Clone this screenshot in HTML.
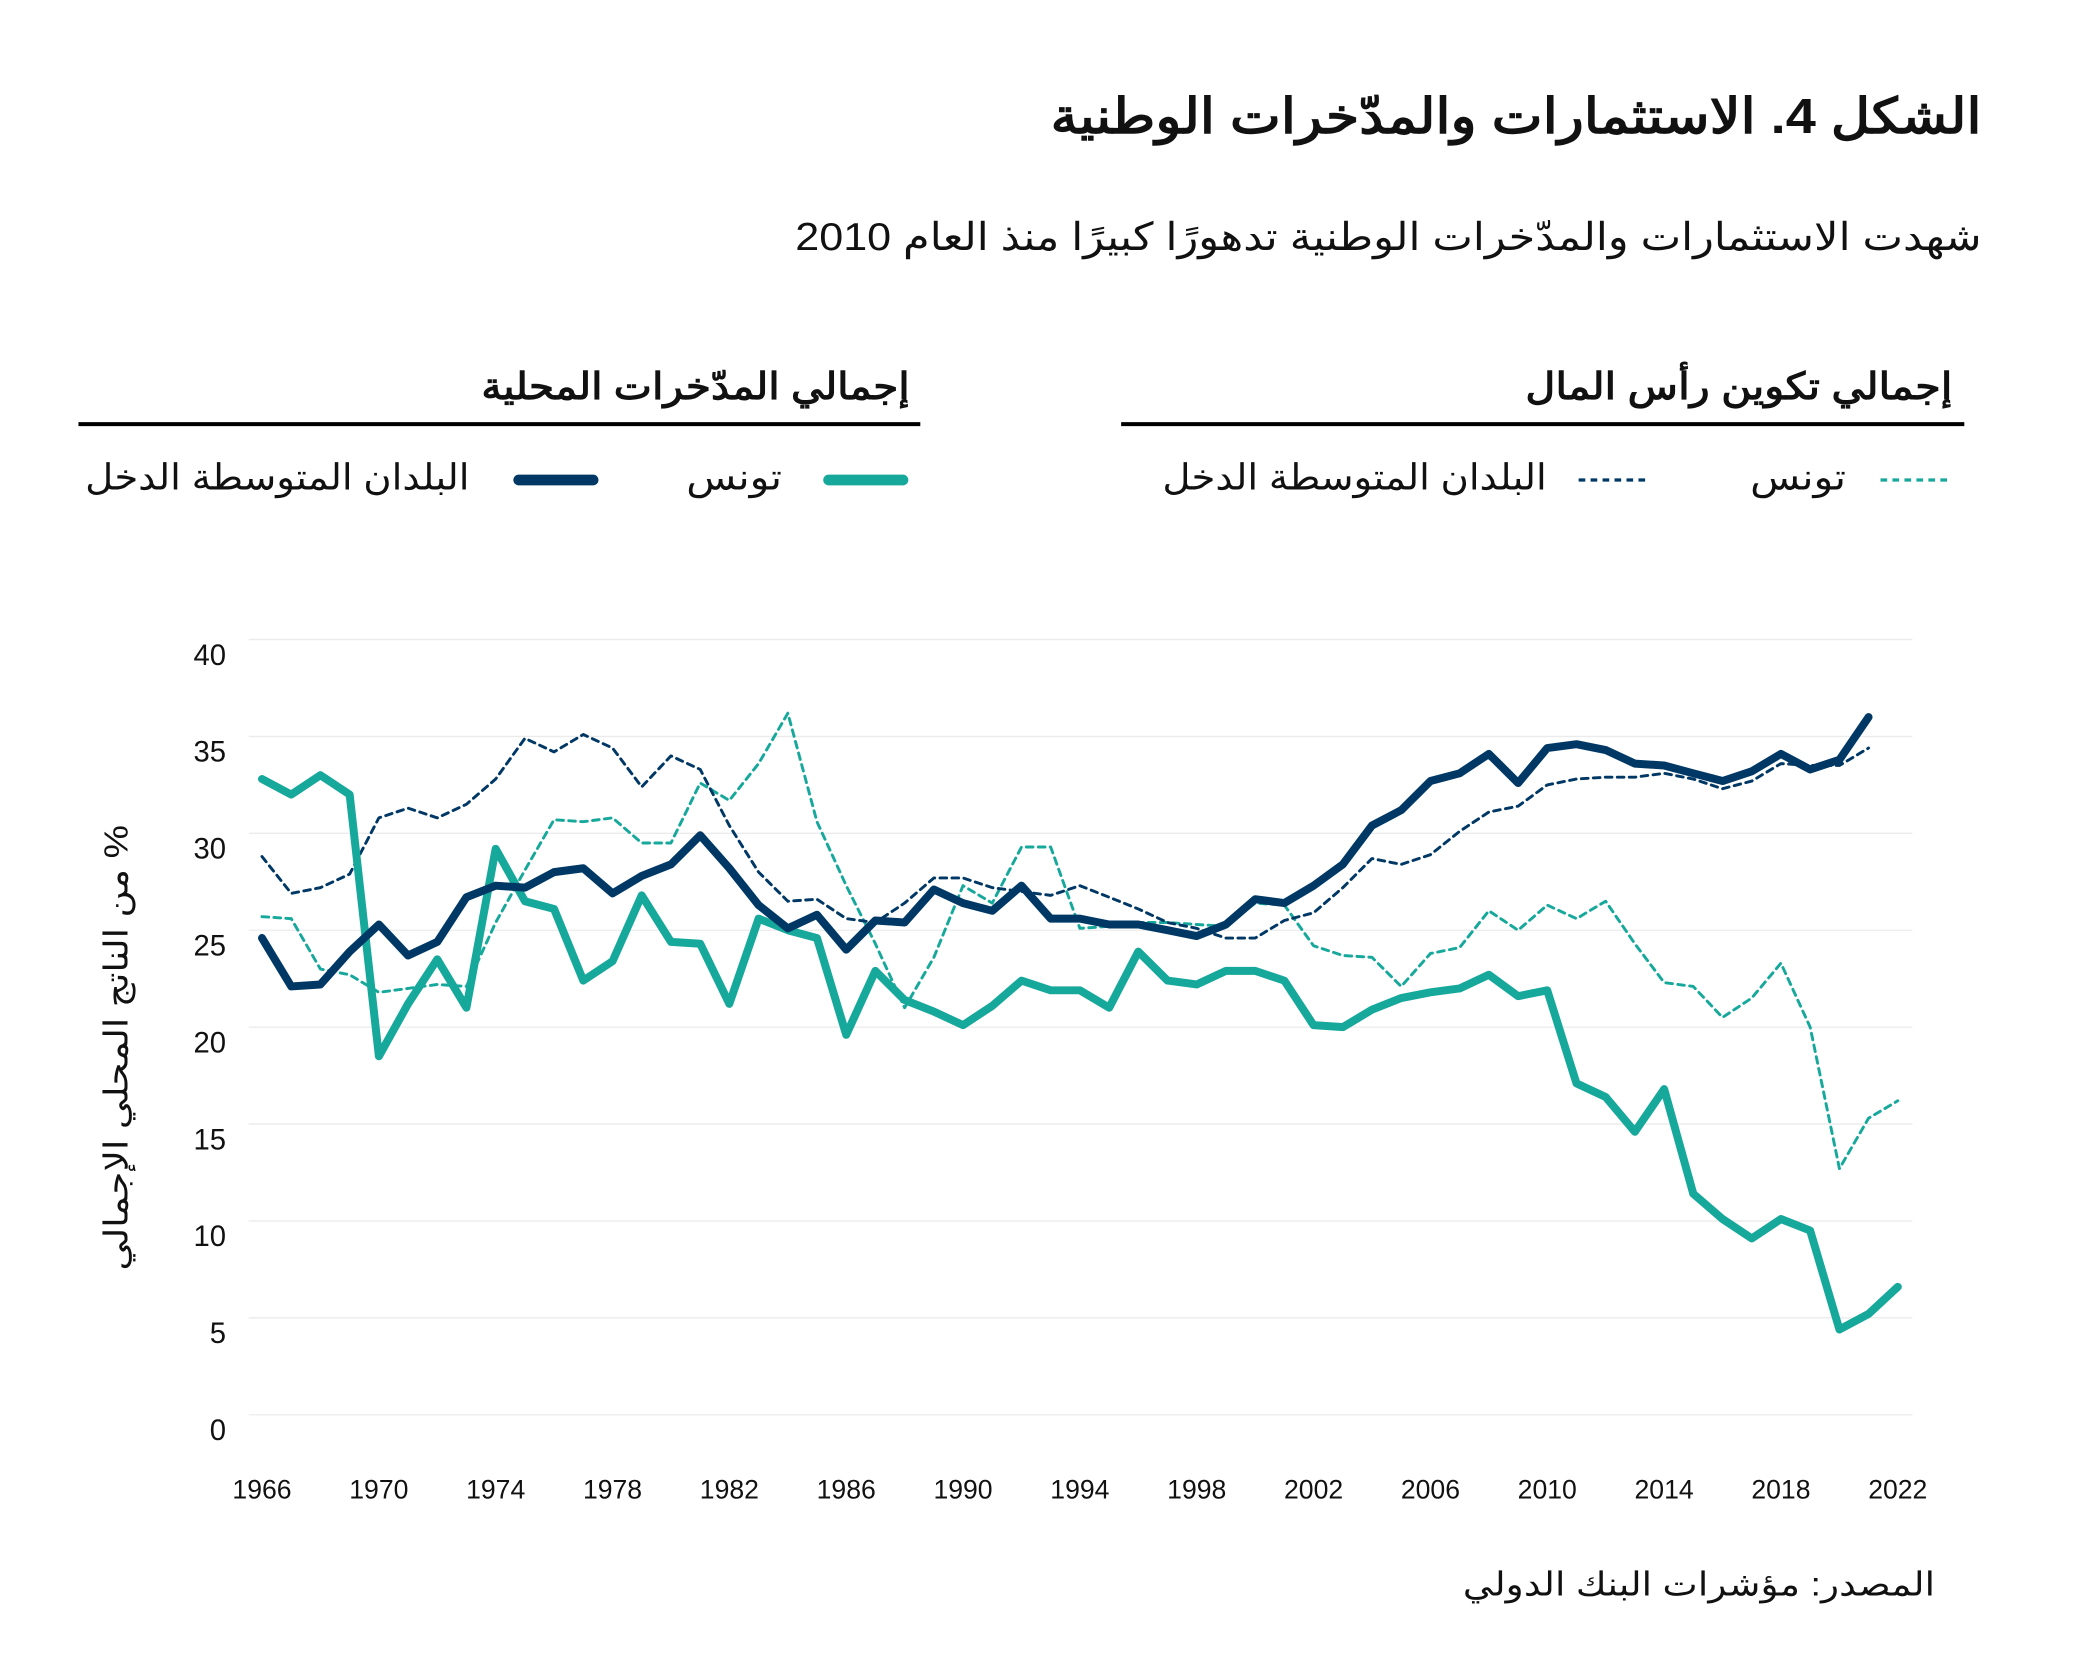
<!DOCTYPE html>
<html><head><meta charset="utf-8"><style>
html,body{margin:0;padding:0;background:#fff}
svg{display:block}
text{font-family:"Liberation Sans","Noto Sans CJK SC",sans-serif;fill:#111}
</style></head><body>
<svg id="s" width="2084" height="1678" viewBox="0 0 1567 1262" preserveAspectRatio="none" xmlns="http://www.w3.org/2000/svg">
<text x="1490" y="100" text-anchor="start" direction="rtl" font-size="37" font-weight="bold" textLength="700" lengthAdjust="spacingAndGlyphs">الشكل 4. الاستثمارات والمدّخرات الوطنية</text>
<text x="1490" y="188" text-anchor="start" direction="rtl" font-size="29" textLength="892" lengthAdjust="spacingAndGlyphs">شهدت الاستثمارات والمدّخرات الوطنية تدهورًا كبيرًا منذ العام 2010</text>
<text x="1468" y="300" text-anchor="start" direction="rtl" font-size="28" font-weight="bold" textLength="321" lengthAdjust="spacingAndGlyphs">إجمالي تكوين رأس المال</text>
<text x="684" y="300" text-anchor="start" direction="rtl" font-size="28" font-weight="bold" textLength="322" lengthAdjust="spacingAndGlyphs">إجمالي المدّخرات المحلية</text>
<line x1="843" y1="319" x2="1477" y2="319" stroke="#000" stroke-width="3"/>
<line x1="59" y1="319" x2="692" y2="319" stroke="#000" stroke-width="3"/>
<line x1="1414" y1="361" x2="1465" y2="361" stroke="#17a89c" stroke-width="2.5" stroke-dasharray="5,4"/>
<text x="1388" y="368" text-anchor="start" direction="rtl" font-size="27" textLength="72" lengthAdjust="spacingAndGlyphs">تونس</text>
<line x1="1187" y1="361" x2="1238" y2="361" stroke="#003865" stroke-width="2.5" stroke-dasharray="5,4"/>
<text x="1163" y="368" text-anchor="start" direction="rtl" font-size="27" textLength="289" lengthAdjust="spacingAndGlyphs">البلدان المتوسطة الدخل</text>
<line x1="623" y1="361" x2="679" y2="361" stroke="#17a89c" stroke-width="8" stroke-linecap="round"/>
<text x="588" y="368" text-anchor="start" direction="rtl" font-size="27" textLength="72" lengthAdjust="spacingAndGlyphs">تونس</text>
<line x1="390" y1="361" x2="446" y2="361" stroke="#003865" stroke-width="8" stroke-linecap="round"/>
<text x="353" y="368" text-anchor="start" direction="rtl" font-size="27" textLength="289" lengthAdjust="spacingAndGlyphs">البلدان المتوسطة الدخل</text>
<g id="grid"></g>
<text transform="translate(96,788) rotate(-90)" text-anchor="middle" direction="rtl" font-size="25" textLength="335" lengthAdjust="spacingAndGlyphs">% من الناتج المحلي الإجمالي</text>
<text x="1455" y="1200" text-anchor="start" direction="rtl" font-size="25" textLength="355" lengthAdjust="spacingAndGlyphs">المصدر: مؤشرات البنك الدولي</text>
<g id="lines"></g>
</svg>
<script>
function Y(v){return 1064-v*14.575}
function X(yr){return 197+(yr-1966)*21.964}
var g=document.getElementById("grid"),h="";
for(var v=0;v<=40;v+=5){h+='<line x1="187" x2="1438" y1="'+Y(v)+'" y2="'+Y(v)+'" stroke="#ebebeb" stroke-width="1"/>';
h+='<text x="170" y="'+(Y(v)+19)+'" text-anchor="end" font-size="22">'+v+'</text>';}
for(var yr=1966;yr<=2022;yr+=4){h+='<text x="'+X(yr)+'" y="1127" text-anchor="middle" font-size="20">'+yr+'</text>';}
g.innerHTML=h;
var tinv=[25.7,25.6,23.0,22.7,21.8,22.0,22.2,22.1,25.4,28.1,30.7,30.6,30.8,29.5,29.5,32.6,31.7,33.6,36.2,30.6,27.3,24.3,21.0,23.6,27.3,26.4,29.3,29.3,25.1,25.2,25.4,25.4,25.3,25.2,26.4,26.3,24.2,23.7,23.6,22.1,23.8,24.1,26.0,25.0,26.3,25.6,26.5,24.3,22.3,22.1,20.5,21.5,23.3,20.0,12.7,15.3,16.2];
var minv=[28.8,26.9,27.2,27.9,30.8,31.3,30.8,31.5,32.8,34.9,34.2,35.1,34.4,32.4,34.0,33.3,30.4,28.0,26.5,26.6,25.6,25.4,26.4,27.7,27.7,27.2,27.0,26.8,27.3,26.7,26.1,25.4,25.1,24.6,24.6,25.5,25.9,27.2,28.7,28.4,28.9,30.1,31.1,31.4,32.5,32.8,32.9,32.9,33.1,32.8,32.3,32.7,33.6,33.5,33.5,34.4];
var tsav=[32.8,32.0,33.0,32.0,18.5,21.2,23.5,21.0,29.2,26.5,26.1,22.4,23.4,26.8,24.4,24.3,21.2,25.6,25.0,24.6,19.6,22.9,21.4,20.8,20.1,21.1,22.4,21.9,21.9,21.0,23.9,22.4,22.2,22.9,22.9,22.4,20.1,20.0,20.9,21.5,21.8,22.0,22.7,21.6,21.9,17.1,16.4,14.6,16.8,11.4,10.1,9.1,10.1,9.5,4.4,5.2,6.6];
var msav=[24.6,22.1,22.2,23.9,25.3,23.7,24.4,26.7,27.3,27.2,28.0,28.2,26.9,27.8,28.4,29.9,28.2,26.3,25.1,25.8,24.0,25.5,25.4,27.1,26.4,26.0,27.3,25.6,25.6,25.3,25.3,25.0,24.7,25.3,26.6,26.4,27.3,28.4,30.4,31.2,32.7,33.1,34.1,32.6,34.4,34.6,34.3,33.6,33.5,33.1,32.7,33.2,34.1,33.3,33.8,36.0];
function path(d,col,w,dash){var s="M";for(var i=0;i<d.length;i++){s+=(i?" L":"")+X(1966+i).toFixed(1)+" "+Y(d[i]).toFixed(1);}
return '<path d="'+s+'" fill="none" stroke="'+col+'" stroke-width="'+w+'" stroke-linejoin="round" stroke-linecap="round"'+(dash?' stroke-dasharray="'+dash+'"':'')+'/>';}
document.getElementById("lines").innerHTML=path(tinv,"#17a89c",2.2,"5,4")+path(minv,"#003865",2.2,"5,4")+path(tsav,"#17a89c",6)+path(msav,"#003865",6);
</script>
</body></html>
